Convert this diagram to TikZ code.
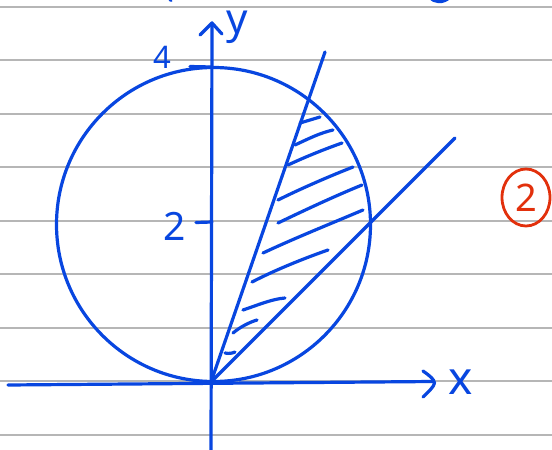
\documentclass[tikz,border=0pt]{standalone}
\usepackage{fontspec}
\setmainfont{Noto Sans}
\usetikzlibrary{shapes.geometric}
\definecolor{ink}{RGB}{8,70,224}
\definecolor{redink}{RGB}{226,48,12}
\definecolor{rule}{RGB}{182,182,182}
\tikzset{
  pen/.style={draw=ink, line width=3.2pt, line cap=round, line join=round},
  hatch/.style={draw=ink, line width=3.2pt, line cap=round},
  ruleline/.style={draw=rule, line width=1.8pt},
  lbl/.style={text=ink, inner sep=0pt},
}
\begin{document}
\begin{tikzpicture}[x=1pt,y=-1pt]
\useasboundingbox (0,0) rectangle (552,450);
\fill[white] (0,0) rectangle (552,450);
% ruled paper
\foreach \yy in {6.7,60.2,113.7,167.2,220.7,274.2,327.7,381.2,434.7}
  \draw[ruleline] (0,\yy) -- (552,\yy);
% remnants of strokes at the top edge
\draw[pen] (169,-2) -- (171,0.5);
\draw[pen] (430,-3) .. controls (434,3) and (443,3) .. (449,-2);
% key points
\coordinate (O) at (211,382);
\coordinate (C) at (213.5,224.5);
\coordinate (ytop) at (212,23);
\coordinate (ybot) at (211,452);
\coordinate (xl) at (8,385);
\coordinate (xr) at (433,381.5);
\coordinate (L1) at (325,52);
\coordinate (L2) at (455,138);
% axes
\draw[pen] (ybot) -- (ytop);
\draw[pen] (200,35) -- (ytop) -- (222,34);
\draw[pen] (xl) -- (xr);
\draw[pen] (423,371) .. controls (430,376) and (434,379) .. (434.5,383) .. controls (434,387) and (428,392) .. (423,397);
% ticks
\coordinate (t4) at (190,66.5);
\coordinate (t4a) at (212,67);
\coordinate (t2) at (196,222.5);
\coordinate (t2a) at (212,222);
\draw[pen] (t4) -- (t4a);
\draw[pen] (t2) -- (t2a);
% labels
\node[lbl, font=\fontsize{31}{31}\selectfont] (n4) at (162.5,57.5) {4};
\node[lbl, font=\fontsize{39}{39}\selectfont] (n2) at (175,226) {2};
\node[lbl, font=\fontsize{42}{42}\selectfont] (ny) at (237.5,27) {y};
\node[lbl, font=\fontsize{46}{46}\selectfont] (nx) at (461,382) {x};
% circle
\draw[pen] (C) circle[radius=157];
% lines through origin
\draw[pen] (O) -- (L1);
\draw[pen] (O) -- (L2);
% hatching
\draw[hatch] (300,123) -- (320,117);
\draw[hatch] (295,145) .. controls (310,138) and (320,133) .. (333,130);
\draw[hatch] (288,165) .. controls (305,157) and (325,149) .. (342,143);
\draw[hatch] (278,200) .. controls (300,189) and (330,176) .. (353,167);
\draw[hatch] (278,223) .. controls (305,210) and (335,196) .. (362,185);
\draw[hatch] (263,253) .. controls (295,238) and (330,224) .. (363,210);
\draw[hatch] (252,282) .. controls (275,270) and (305,258) .. (328,250);
\draw[hatch] (243,310) .. controls (258,305) and (272,299) .. (285,298);
\draw[hatch] (233,333) .. controls (240,327) and (250,322) .. (257,320);
\draw[hatch] (225,353) .. controls (229,354) and (233,353) .. (235,352);
% circled number
\node[draw=redink, line width=2.8pt, ellipse, minimum width=48pt, minimum height=57pt,
      inner sep=0pt, text=redink, font=\fontsize{38}{38}\selectfont] (tag) at (526,197.5) {2};
\end{tikzpicture}
\end{document}
